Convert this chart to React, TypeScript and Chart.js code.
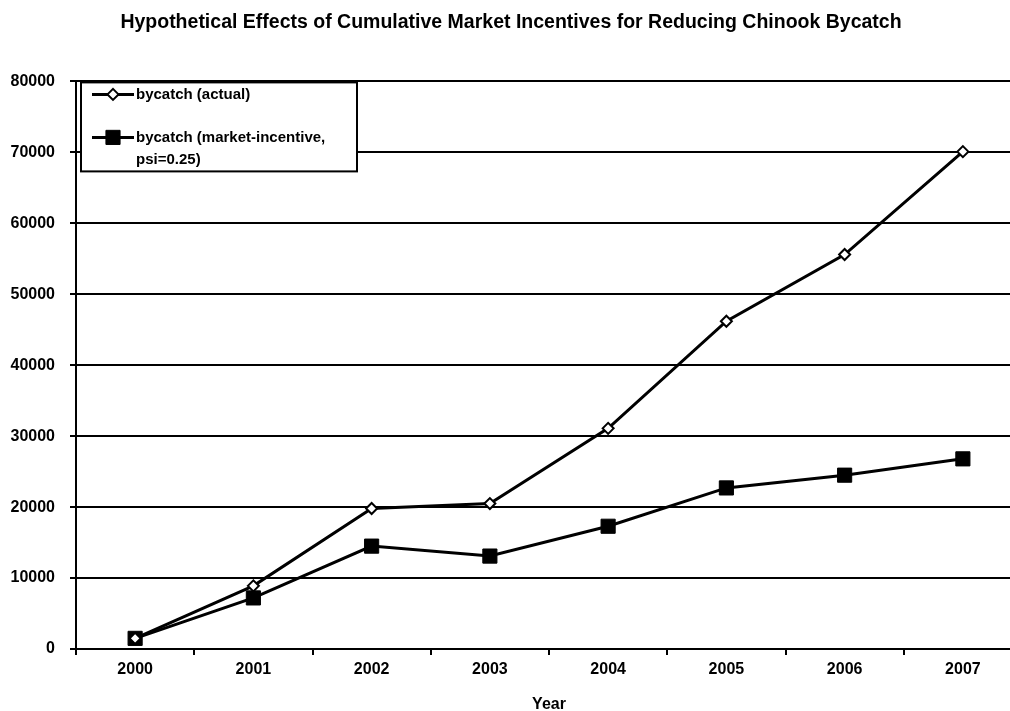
import React, { useEffect, useRef } from "react";
import { Chart, registerables } from "chart.js";

Chart.register(...registerables);

const years = ["2000", "2001", "2002", "2003", "2004", "2005", "2006", "2007"];
const actualBycatch = [1500, 8900, 19800, 20500, 31100, 46200, 55600, 70100];
const incentiveBycatch = [1500, 7200, 14500, 13100, 17300, 22700, 24500, 26800];
const legendLabels: string[][] = [
  ["bycatch (actual)"],
  ["bycatch (market-incentive,", "psi=0.25)"],
];
const chartTitle =
  "Hypothetical Effects of Cumulative Market Incentives for Reducing Chinook Bycatch";
const xTitle = "Year";

const FONT = "'Liberation Sans', Arial, Helvetica, sans-serif";
const CANVAS_W = 1022;
const CANVAS_H = 711;

// Let the plot run right up to the canvas edge (the reference plot is cropped on the right).
const fullRight = {
  id: "fullRight",
  afterLayout(chart: any) {
    const xs = chart.scales.x;
    const target = chart.width;
    const d = target - chart.chartArea.right;
    if (d > 0) {
      chart.chartArea.right = target;
      chart.chartArea.width += d;
      xs.right = target;
      xs.width += d;
      xs.configure();
    }
  },
};

const boxLegend = {
  id: "boxLegend",
  afterDraw(chart: any) {
    const ctx = chart.ctx as CanvasRenderingContext2D;
    const area = chart.chartArea;
    ctx.save();
    const x0 = area.left + 5;
    const y0 = area.top + 1;
    const w = 276;
    const h = 89;
    ctx.fillStyle = "#fff";
    ctx.fillRect(x0, y0, w, h);
    ctx.strokeStyle = "#000";
    ctx.lineWidth = 2;
    ctx.strokeRect(x0, y0, w, h);
    const rowY = [y0 + 12, y0 + 55];
    const lineGap = 22;
    ctx.font = `bold 15px ${FONT}`;
    ctx.textBaseline = "middle";
    ctx.textAlign = "left";
    chart.data.datasets.forEach((ds: any, i: number) => {
      const y = rowY[i];
      const lx0 = x0 + 11;
      const lx1 = x0 + 53;
      ctx.strokeStyle = ds.borderColor;
      ctx.lineWidth = ds.borderWidth;
      ctx.beginPath();
      ctx.moveTo(lx0, y);
      ctx.lineTo(lx1, y);
      ctx.stroke();
      const cx = (lx0 + lx1) / 2;
      const r = ds.pointRadius;
      ctx.fillStyle = ds.pointBackgroundColor;
      ctx.strokeStyle = ds.pointBorderColor;
      ctx.lineWidth = ds.pointBorderWidth;
      ctx.beginPath();
      if (ds.pointStyle === "rectRot") {
        ctx.moveTo(cx, y - r);
        ctx.lineTo(cx + r, y);
        ctx.lineTo(cx, y + r);
        ctx.lineTo(cx - r, y);
        ctx.closePath();
      } else {
        const s = Math.SQRT1_2 * r;
        ctx.rect(cx - s, y - s, 2 * s, 2 * s);
      }
      ctx.fill();
      ctx.stroke();
      ctx.fillStyle = "#000";
      legendLabels[i].forEach((t, k) => {
        ctx.fillText(t, lx1 + 2, y + k * lineGap);
      });
    });
    ctx.restore();
  },
};

export default function App() {
  const ref = useRef<HTMLCanvasElement | null>(null);
  useEffect(() => {
    if (!ref.current) return;
    const chart = new Chart(ref.current, {
      type: "line",
      data: {
        labels: years,
        datasets: [
          {
            label: legendLabels[0].join(" "),
            data: actualBycatch,
            borderColor: "#000",
            borderWidth: 3,
            tension: 0,
            pointStyle: "rectRot",
            pointRadius: 5.5,
            pointBackgroundColor: "#fff",
            pointBorderColor: "#000",
            pointBorderWidth: 2,
            fill: false,
          },
          {
            label: legendLabels[1].join(" "),
            data: incentiveBycatch,
            borderColor: "#000",
            borderWidth: 3,
            tension: 0,
            pointStyle: "rect",
            pointRadius: 10,
            pointBackgroundColor: "#000",
            pointBorderColor: "#000",
            pointBorderWidth: 1,
            fill: false,
          },
        ],
      },
      options: {
        responsive: false,
        animation: false,
        devicePixelRatio: 1,
        layout: { padding: { left: 0, right: 0, top: 0, bottom: 0 } },
        plugins: {
          legend: { display: false },
          tooltip: { enabled: false },
          title: {
            display: true,
            text: chartTitle,
            color: "#000",
            font: { family: FONT, size: 19.5, weight: "bold" },
            padding: { top: 11, bottom: 47 },
          },
        },
        scales: {
          x: {
            type: "category",
            offset: true,
            afterFit: (scale: any) => {
              scale.height = 62;
              scale.paddingLeft = 0;
              scale.paddingRight = 0;
            },
            grid: {
              offset: true,
              drawOnChartArea: false,
              drawTicks: true,
              tickLength: 6,
              color: "#000",
              lineWidth: 2,
            },
            border: { color: "#000", width: 2 },
            ticks: {
              color: "#000",
              padding: 5,
              maxRotation: 0,
              font: { family: FONT, size: 16, weight: "bold" },
            },
            title: {
              display: true,
              text: xTitle,
              color: "#000",
              font: { family: FONT, size: 16, weight: "bold", lineHeight: 1 },
              padding: { top: 0, bottom: -2 },
            },
          },
          y: {
            min: 0,
            max: 80000,
            afterFit: (scale: any) => {
              scale.width = 76;
            },
            grid: {
              drawOnChartArea: true,
              drawTicks: true,
              tickLength: 6,
              color: "#000",
              lineWidth: 2,
            },
            border: { color: "#000", width: 2 },
            ticks: {
              stepSize: 10000,
              color: "#000",
              padding: 15,
              font: { family: FONT, size: 16, weight: "bold" },
              callback: (v: any) => String(v),
            },
          },
        },
      },
      plugins: [fullRight, boxLegend],
    });
    return () => chart.destroy();
  }, []);
  return (
    <div
      style={{
        position: "fixed",
        left: 0,
        top: 0,
        width: 1010,
        height: 711,
        overflow: "hidden",
        background: "#fff",
      }}
    >
      <canvas
        ref={ref}
        width={CANVAS_W}
        height={CANVAS_H}
        style={{ display: "block", width: CANVAS_W, height: CANVAS_H, maxWidth: "none" }}
      />
    </div>
  );
}
